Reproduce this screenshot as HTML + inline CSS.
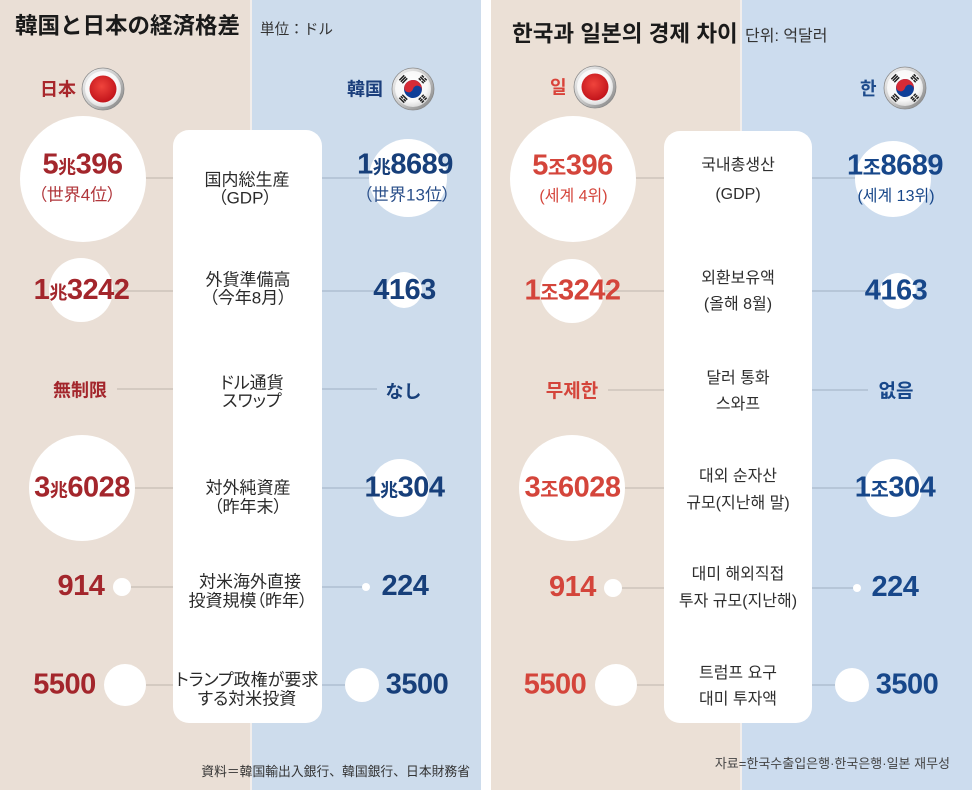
<!DOCTYPE html>
<html><head><meta charset="utf-8">
<style>
html,body{margin:0;padding:0;background:#fff;}
svg{display:block;}
.jp{font-family:"Liberation Sans","Noto Sans CJK JP",sans-serif;}
.kr{font-family:"Liberation Sans","Noto Sans CJK KR",sans-serif;}
.palt{font-feature-settings:"palt";}
</style></head>
<body>
<svg width="972" height="791" viewBox="0 0 972 791" xmlns="http://www.w3.org/2000/svg">
<defs>
  <linearGradient id="ring" x1="0" y1="0" x2="1" y2="1">
    <stop offset="0" stop-color="#f6f6f6"/>
    <stop offset="0.5" stop-color="#c9c9c9"/>
    <stop offset="1" stop-color="#7d7d7d"/>
  </linearGradient>
  <radialGradient id="wht" cx="0.45" cy="0.4" r="0.6">
    <stop offset="0" stop-color="#ffffff"/>
    <stop offset="0.75" stop-color="#f7f7f7"/>
    <stop offset="1" stop-color="#dcdcdc"/>
  </radialGradient>
  <radialGradient id="red" cx="0.45" cy="0.4" r="0.6">
    <stop offset="0" stop-color="#f0443c"/>
    <stop offset="1" stop-color="#c2141b"/>
  </radialGradient>
  <g id="jpflag">
    <circle r="21" fill="url(#ring)" stroke="#8a8a8a" stroke-width="0.8"/>
    <circle r="18" fill="url(#wht)"/>
    <circle r="13.5" fill="url(#red)"/>
  </g>
  <g id="krflag">
    <circle r="21" fill="url(#ring)" stroke="#8a8a8a" stroke-width="0.8"/>
    <circle r="18" fill="url(#wht)"/>
    <g transform="rotate(15)">
      <circle r="9" fill="#0f3f98"/>
      <path d="M -9 0 A 9 9 0 0 1 9 0 A 4.5 4.5 0 0 0 0 0 A 4.5 4.5 0 0 1 -9 0 Z" fill="#d52b36"/>
    </g>
    <g fill="#222">
      <g transform="rotate(-45)"><rect x="-3.5" y="-16.6" width="7" height="1.5"/><rect x="-3.5" y="-14.5" width="7" height="1.5"/><rect x="-3.5" y="-12.4" width="7" height="1.5"/></g>
      <g transform="rotate(45)"><rect x="-3.5" y="-16.6" width="3" height="1.5"/><rect x="0.5" y="-16.6" width="3" height="1.5"/><rect x="-3.5" y="-14.5" width="7" height="1.5"/><rect x="-3.5" y="-12.4" width="3" height="1.5"/><rect x="0.5" y="-12.4" width="3" height="1.5"/></g>
      <g transform="rotate(135)"><rect x="-3.5" y="-16.6" width="3" height="1.5"/><rect x="0.5" y="-16.6" width="3" height="1.5"/><rect x="-3.5" y="-14.5" width="3" height="1.5"/><rect x="0.5" y="-14.5" width="3" height="1.5"/><rect x="-3.5" y="-12.4" width="3" height="1.5"/><rect x="0.5" y="-12.4" width="3" height="1.5"/></g>
      <g transform="rotate(225)"><rect x="-3.5" y="-16.6" width="7" height="1.5"/><rect x="-3.5" y="-14.5" width="3" height="1.5"/><rect x="0.5" y="-14.5" width="3" height="1.5"/><rect x="-3.5" y="-12.4" width="7" height="1.5"/></g>
    </g>
  </g>
</defs>

<!-- ============ LEFT PANEL (Japanese) ============ -->
<rect x="0" y="0" width="250" height="790" fill="#eadfd6"/>
<rect x="250" y="0" width="2" height="790" fill="#f2eeec"/>
<rect x="252" y="0" width="229" height="790" fill="#cddcec"/>

<text class="jp" x="15" y="33.5" font-size="22.5" font-weight="bold" fill="#1a1a1a">韓国と日本の経済格差</text>
<text class="jp" x="260" y="34" font-size="14.6" fill="#333">単位：ドル</text>

<text class="jp" x="40" y="95.5" font-size="18" font-weight="bold" fill="#a8262b">日本</text>
<use href="#jpflag" x="103" y="89"/>
<text class="jp" x="347" y="95.5" font-size="18" font-weight="bold" fill="#1c3f7c">韓国</text>
<use href="#krflag" x="413" y="89"/>

<!-- lines -->
<g stroke="#c7bdb5" stroke-width="1.3">
  <line x1="83" y1="178" x2="174" y2="178"/>
  <line x1="81" y1="291" x2="174" y2="291"/>
  <line x1="117" y1="389" x2="174" y2="389"/>
  <line x1="82" y1="488" x2="174" y2="488"/>
  <line x1="122" y1="587" x2="174" y2="587"/>
  <line x1="125" y1="685" x2="174" y2="685"/>
</g>
<g stroke="#a9b9cb" stroke-width="1.3">
  <line x1="321" y1="178" x2="408" y2="178"/>
  <line x1="321" y1="291" x2="404" y2="291"/>
  <line x1="321" y1="389" x2="377" y2="389"/>
  <line x1="321" y1="488" x2="400" y2="488"/>
  <line x1="321" y1="587" x2="366" y2="587"/>
  <line x1="321" y1="685" x2="362" y2="685"/>
</g>

<rect x="173" y="130" width="149" height="593" rx="16" ry="16" fill="#ffffff"/>

<!-- circles -->
<g fill="#ffffff">
  <circle cx="83" cy="179" r="63"/>
  <circle cx="81" cy="290" r="32"/>
  <circle cx="82" cy="488" r="53"/>
  <circle cx="122" cy="587" r="9"/>
  <circle cx="125" cy="685" r="21"/>
  <circle cx="408" cy="178" r="39"/>
  <circle cx="404" cy="290" r="18"/>
  <circle cx="400" cy="488" r="29"/>
  <circle cx="366" cy="587" r="4"/>
  <circle cx="362" cy="685" r="17"/>
</g>

<!-- JP numbers -->
<g class="jp" font-weight="bold" text-anchor="middle" fill="#a3262c" font-size="29" letter-spacing="-0.5">
  <text x="82.5" y="173.5">5<tspan font-size="18">兆</tspan>396</text>
  <text x="81.5" y="299">1<tspan font-size="18">兆</tspan>3242</text>
  <text x="80" y="396.5" font-size="18" letter-spacing="0">無制限</text>
  <text x="82" y="496.5">3<tspan font-size="18">兆</tspan>6028</text>
  <text x="81" y="595">914</text>
  <text x="64.5" y="693.5">5500</text>
</g>
<text class="jp palt" x="77" y="200.5" text-anchor="middle" font-size="17" fill="#b0353a">（世界4位）</text>
<g class="jp" font-weight="bold" text-anchor="middle" fill="#173f7a" font-size="29" letter-spacing="-0.5">
  <text x="405" y="173.5">1<tspan font-size="18">兆</tspan>8689</text>
  <text x="404.5" y="299">4163</text>
  <text x="403.5" y="398" font-size="18" letter-spacing="0">なし</text>
  <text x="404.5" y="496.5">1<tspan font-size="18">兆</tspan>304</text>
  <text x="405" y="595">224</text>
  <text x="417" y="693.5">3500</text>
</g>
<text class="jp palt" x="407" y="200.5" text-anchor="middle" font-size="17" fill="#2a4f8a">（世界13位）</text>

<!-- JP card labels -->
<g class="jp palt" text-anchor="middle" font-size="17" fill="#2a2a2a">
  <text x="247" y="185.5">国内総生産</text>
  <text x="245" y="203.5">（GDP）</text>
  <text x="248" y="285.5">外貨準備高</text>
  <text x="248" y="303.5">（今年8月）</text>
  <text x="252" y="388.5">ドル通貨</text>
  <text x="252" y="406.5">スワップ</text>
  <text x="248" y="493.5">対外純資産</text>
  <text x="248" y="512.5">（昨年末）</text>
  <text x="250" y="587.5">対米海外直接</text>
  <text x="248" y="606.5">投資規模（昨年）</text>
  <text x="247" y="685.5">トランプ政権が要求</text>
  <text x="247" y="704.5">する対米投資</text>
</g>

<text class="jp" x="470" y="776" text-anchor="end" font-size="12.8" fill="#333">資料＝韓国輸出入銀行、韓国銀行、日本財務省</text>

<!-- ============ RIGHT PANEL (Korean) ============ -->
<rect x="491" y="0" width="249" height="790" fill="#ebe0d6"/>
<rect x="740" y="0" width="2" height="790" fill="#f2eeec"/>
<rect x="742" y="0" width="230" height="790" fill="#ccdcee"/>

<text class="kr" x="512" y="41.5" font-size="22.5" font-weight="bold" fill="#1a1a1a">한국과 일본의 경제 차이</text>
<text class="kr" x="745" y="41" font-size="16" fill="#333">단위: 억달러</text>

<text class="kr" x="550" y="93.5" font-size="18" font-weight="bold" fill="#d9433a">일</text>
<use href="#jpflag" x="595" y="87"/>
<text class="kr" x="860" y="95" font-size="18" font-weight="bold" fill="#1d4b8c">한</text>
<use href="#krflag" x="905" y="88"/>

<g stroke="#c8beb6" stroke-width="1.3">
  <line x1="573" y1="178" x2="665" y2="178"/>
  <line x1="572" y1="291" x2="665" y2="291"/>
  <line x1="608" y1="390" x2="665" y2="390"/>
  <line x1="572" y1="488" x2="665" y2="488"/>
  <line x1="613" y1="588" x2="665" y2="588"/>
  <line x1="616" y1="685" x2="665" y2="685"/>
</g>
<g stroke="#a9b9cb" stroke-width="1.3">
  <line x1="811" y1="178" x2="893" y2="178"/>
  <line x1="811" y1="291" x2="898" y2="291"/>
  <line x1="811" y1="390" x2="868" y2="390"/>
  <line x1="811" y1="488" x2="893" y2="488"/>
  <line x1="811" y1="588" x2="857" y2="588"/>
  <line x1="811" y1="685" x2="852" y2="685"/>
</g>

<rect x="664" y="131" width="148" height="592" rx="16" ry="16" fill="#ffffff"/>

<g fill="#ffffff">
  <circle cx="573" cy="179" r="63"/>
  <circle cx="572" cy="291" r="32"/>
  <circle cx="572" cy="488" r="53"/>
  <circle cx="613" cy="588" r="9"/>
  <circle cx="616" cy="685" r="21"/>
  <circle cx="893" cy="179" r="38"/>
  <circle cx="898" cy="291" r="18"/>
  <circle cx="893" cy="488" r="29"/>
  <circle cx="857" cy="588" r="4"/>
  <circle cx="852" cy="685" r="17"/>
</g>

<g class="kr" font-weight="bold" text-anchor="middle" fill="#d4453b" font-size="29" letter-spacing="-0.5">
  <text x="572.5" y="174.5">5<tspan font-size="20">조</tspan>396</text>
  <text x="572.5" y="299.5">1<tspan font-size="20">조</tspan>3242</text>
  <text x="572" y="397" font-size="19" letter-spacing="0">무제한</text>
  <text x="572.5" y="496.5">3<tspan font-size="20">조</tspan>6028</text>
  <text x="572.5" y="596">914</text>
  <text x="555" y="693.5">5500</text>
</g>
<text class="kr" x="573.5" y="201" text-anchor="middle" font-size="16" fill="#d4453b">(세계 4위)</text>
<g class="kr" font-weight="bold" text-anchor="middle" fill="#17478a" font-size="29" letter-spacing="-0.5">
  <text x="895" y="174.5">1<tspan font-size="20">조</tspan>8689</text>
  <text x="896" y="299.5">4163</text>
  <text x="896" y="397" font-size="19" letter-spacing="0">없음</text>
  <text x="895" y="496.5">1<tspan font-size="20">조</tspan>304</text>
  <text x="895" y="596">224</text>
  <text x="907" y="693.5">3500</text>
</g>
<text class="kr" x="896" y="201" text-anchor="middle" font-size="16" fill="#17478a">(세계 13위)</text>

<g class="kr" text-anchor="middle" font-size="16" fill="#2e2e2e">
  <text x="738" y="170">국내총생산</text>
  <text x="738" y="199">(GDP)</text>
  <text x="738" y="283">외환보유액</text>
  <text x="738" y="309">(올해 8월)</text>
  <text x="738" y="383">달러 통화</text>
  <text x="738" y="409">스와프</text>
  <text x="738" y="481">대외 순자산</text>
  <text x="738" y="508">규모(지난해 말)</text>
  <text x="738" y="579">대미 해외직접</text>
  <text x="738" y="606">투자 규모(지난해)</text>
  <text x="738" y="678">트럼프 요구</text>
  <text x="738" y="704">대미 투자액</text>
</g>

<text class="kr" x="950" y="768" text-anchor="end" font-size="13" fill="#444">자료=한국수출입은행·한국은행·일본 재무성</text>
</svg>
</body></html>
